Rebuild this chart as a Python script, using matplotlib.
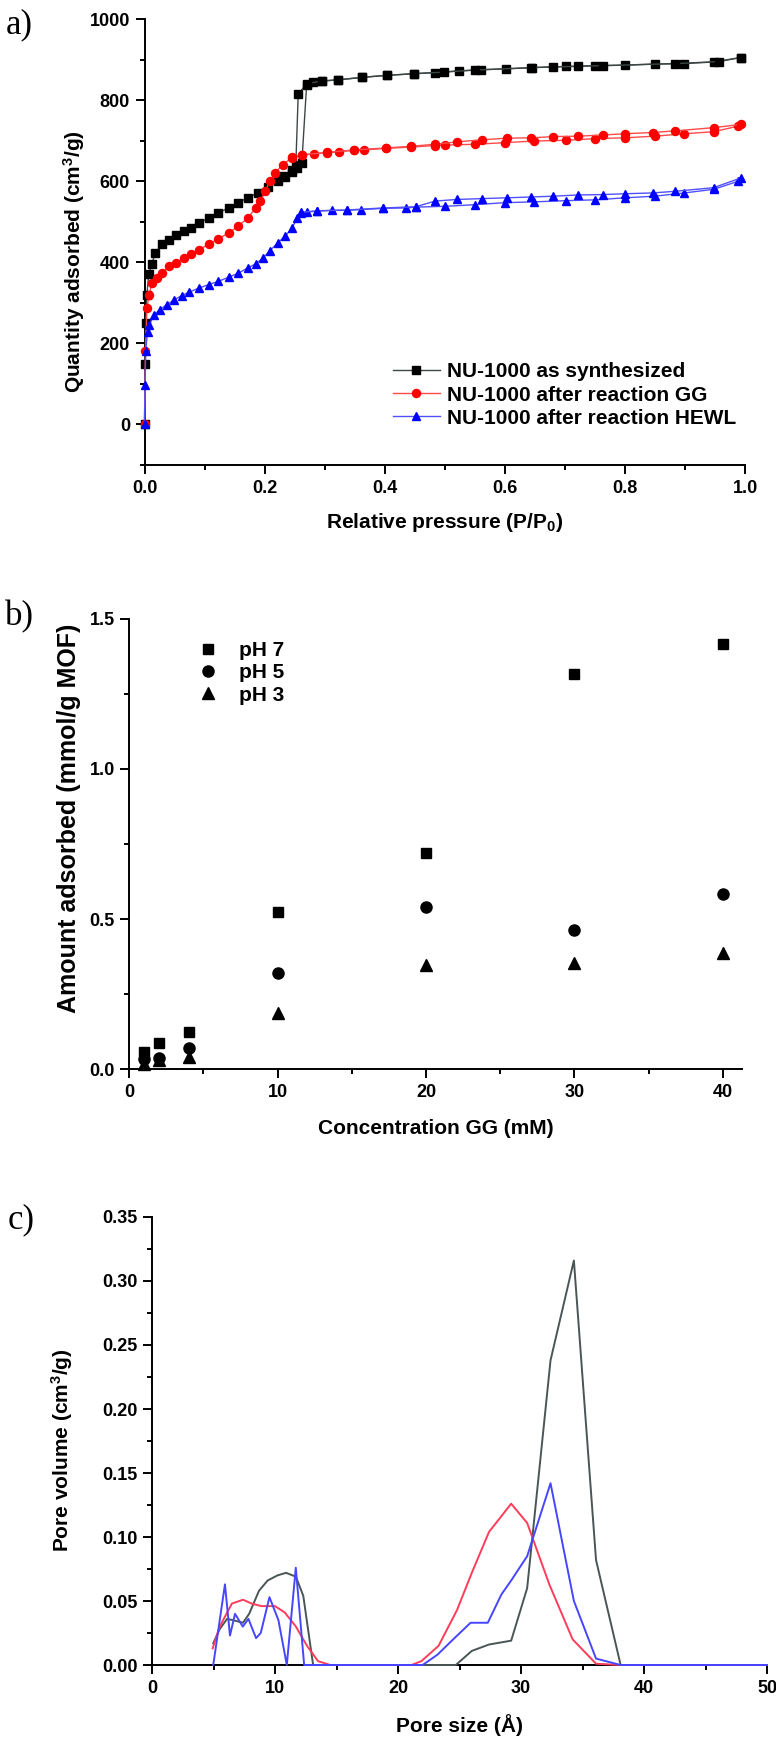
import matplotlib
matplotlib.use('Agg')
import matplotlib.pyplot as plt
from matplotlib.ticker import MultipleLocator, FormatStrFormatter

W, H = 776, 1738
plt.rcParams['font.family'] = ['Liberation Sans', 'DejaVu Sans']
plt.rcParams['font.weight'] = 'bold'
plt.rcParams['mathtext.fontset'] = 'custom'
plt.rcParams['mathtext.rm'] = 'Liberation Sans:bold'
plt.rcParams['mathtext.it'] = 'Liberation Sans:bold'
plt.rcParams['mathtext.bf'] = 'Liberation Sans:bold'

# ---------------- Panel a: N2 isotherms ----------------
syn_ads_p = [0.0, 0.001, 0.002, 0.004, 0.007, 0.012, 0.018, 0.029, 0.041, 0.053, 0.066, 0.078,
             0.09, 0.107, 0.123, 0.14, 0.156, 0.172, 0.189, 0.205, 0.222, 0.234, 0.246, 0.254,
             0.262, 0.270, 0.281, 0.295, 0.323, 0.362, 0.403, 0.448, 0.484, 0.523, 0.561, 0.602,
             0.645, 0.702, 0.751, 0.80, 0.85, 0.899, 0.948, 0.993]
syn_ads_q = [0, 150, 250, 320, 370, 395, 423, 444, 456, 468, 476, 485,
             497, 509, 522, 534, 547, 559, 571, 585, 600, 610, 622, 632,
             645, 838, 844, 847, 850, 856, 861, 865, 868, 872, 875, 877,
             880, 883, 885, 886, 889, 890, 894, 905]
syn_des_p = [0.993, 0.956, 0.883, 0.764, 0.722, 0.681, 0.644, 0.55, 0.498, 0.448, 0.403,
             0.362, 0.323, 0.295, 0.270, 0.256, 0.252, 0.245, 0.23]
syn_des_q = [905, 895, 890, 885, 883, 882, 880, 874, 869, 865, 861,
             856, 850, 847, 840, 815, 640, 628, 612]

gg_ads_p = [0.0, 0.0016, 0.004, 0.008, 0.012, 0.02, 0.029, 0.041, 0.053, 0.066, 0.078, 0.09,
            0.107, 0.123, 0.14, 0.156, 0.172, 0.185, 0.193, 0.201, 0.209, 0.218, 0.23, 0.246,
            0.263, 0.283, 0.304, 0.324, 0.349, 0.365, 0.402, 0.443, 0.484, 0.50, 0.55, 0.60,
            0.649, 0.702, 0.751, 0.80, 0.85, 0.899, 0.948, 0.989]
gg_ads_q = [0, 180, 287, 320, 349, 361, 373, 390, 398, 410, 420, 431,
            444, 458, 472, 489, 509, 534, 551, 575, 600, 621, 641, 658,
            664, 668, 670, 673, 676, 677, 681, 684, 688, 689, 691, 695,
            699, 701, 705, 707, 711, 717, 722, 736]
gg_des_p = [0.993, 0.948, 0.883, 0.846, 0.80, 0.764, 0.722, 0.681, 0.644, 0.603, 0.562,
            0.521, 0.484, 0.443, 0.402, 0.349, 0.304, 0.263, 0.246]
gg_des_q = [740, 732, 724, 720, 717, 714, 711, 710, 707, 706, 702,
            697, 691, 686, 682, 677, 671, 665, 659]

hewl_ads_p = [0.0, 0.001, 0.002, 0.005, 0.008, 0.016, 0.025, 0.037, 0.049, 0.062, 0.074,
              0.09, 0.107, 0.123, 0.14, 0.156, 0.172, 0.185, 0.197, 0.209, 0.222, 0.234,
              0.246, 0.254, 0.261, 0.271, 0.287, 0.312, 0.337, 0.361, 0.398, 0.435, 0.452,
              0.50, 0.55, 0.60, 0.649, 0.702, 0.751, 0.80, 0.85, 0.899, 0.948, 0.989]
hewl_ads_q = [0, 97, 180, 229, 246, 270, 283, 295, 307, 318, 326,
              336, 345, 353, 363, 373, 386, 396, 410, 429, 448, 464,
              485, 509, 522, 524, 526, 528, 528, 530, 533, 534, 536,
              538, 542, 547, 549, 552, 554, 559, 563, 571, 580, 600]
hewl_des_p = [0.993, 0.948, 0.883, 0.846, 0.80, 0.764, 0.722, 0.681, 0.644, 0.603, 0.562,
              0.521, 0.484, 0.452, 0.398, 0.337, 0.287, 0.261]
hewl_des_q = [608, 584, 575, 571, 569, 567, 566, 563, 561, 559, 557,
              555, 551, 537, 534, 529, 527, 523]

iso_labels = ['NU-1000 as synthesized', 'NU-1000 after reaction GG', 'NU-1000 after reaction HEWL']

# ---------------- Panel b: GG uptake ----------------
conc = [1, 2, 4, 10, 20, 30, 40]
ph7 = [0.058, 0.086, 0.124, 0.522, 0.72, 1.315, 1.417]
ph5 = [0.033, 0.038, 0.069, 0.319, 0.54, 0.463, 0.585]
ph3 = [0.017, 0.030, 0.040, 0.188, 0.348, 0.355, 0.387]
ph_labels = ['pH 7', 'pH 5', 'pH 3']

# ---------------- Panel c: pore size distribution ----------------
psd_syn_x = [4.98, 5.5, 6.1, 6.6, 7.4, 7.9, 8.7, 9.4, 10.2, 10.9, 11.7, 12.3, 13.1,
             24.7, 26.0, 27.4, 29.2, 30.5, 32.4, 34.3, 36.1, 38.1, 40, 45, 50]
psd_syn_y = [0.017, 0.028, 0.036, 0.035, 0.033, 0.040, 0.058, 0.066, 0.070, 0.072, 0.069, 0.054, 0.0,
             0.0, 0.011, 0.016, 0.019, 0.060, 0.238, 0.316, 0.082, 0.0, 0.0, 0.0, 0.0]
psd_gg_x = [4.93, 5.5, 6.5, 7.4, 8.1, 8.9, 10.0, 10.8, 11.7, 12.6, 13.5, 14.5,
            21.1, 21.9, 23.3, 24.8, 26.0, 27.4, 29.2, 30.5, 32.3, 34.2, 36.1, 38.1, 40, 45, 50]
psd_gg_y = [0.013, 0.030, 0.048, 0.051, 0.048, 0.046, 0.046, 0.041, 0.030, 0.015, 0.003, 0.0,
            0.0, 0.003, 0.015, 0.043, 0.072, 0.104, 0.126, 0.111, 0.063, 0.020, 0.001, 0.0, 0.0, 0.0, 0.0]
psd_hewl_x = [4.98, 5.93, 6.34, 6.75, 7.38, 7.84, 8.46, 8.84, 9.55, 10.28, 10.96, 11.69, 12.37,
              22.0, 23.2, 24.7, 25.9, 27.3, 28.4, 29.2, 30.5, 32.4, 34.3, 36.1, 38.1, 40, 45, 50]
psd_hewl_y = [0.0, 0.063, 0.023, 0.040, 0.030, 0.036, 0.021, 0.025, 0.053, 0.035, 0.0, 0.076, 0.0,
              0.0, 0.008, 0.022, 0.033, 0.033, 0.055, 0.066, 0.085, 0.142, 0.050, 0.005, 0.0, 0.0, 0.0, 0.0]

# ======================================================================
fig = plt.figure(figsize=(W / 100, H / 100), dpi=100)


def ax_px(l, t, r, b):
    return fig.add_axes([l / W, 1 - b / H, (r - l) / W, (b - t) / H])


def style(ax):
    for s in ['top', 'right']:
        ax.spines[s].set_visible(False)
    for s in ['left', 'bottom']:
        ax.spines[s].set_linewidth(1.4)
    ax.tick_params(which='major', length=6.5, width=1.4, labelsize=13, pad=4, direction='out')
    ax.tick_params(which='minor', length=3.5, width=1.4, direction='out')


def ftext(x, y, s, **kw):
    fig.text(x / W, 1 - y / H, s, **kw)


# ---- a ----
axa = ax_px(144.5, 19, 745, 465)
style(axa)
axa.set_xlim(0, 1.0)
axa.set_ylim(-100, 1000)
axa.xaxis.set_major_locator(MultipleLocator(0.2))
axa.xaxis.set_minor_locator(MultipleLocator(0.1))
axa.xaxis.set_major_formatter(FormatStrFormatter('%.1f'))
axa.yaxis.set_major_locator(MultipleLocator(200))
axa.yaxis.set_minor_locator(MultipleLocator(100))

sets = [
    (syn_ads_p, syn_ads_q, syn_des_p, syn_des_q, '#3d4747', 'black', 's', 5.2),
    (gg_ads_p, gg_ads_q, gg_des_p, gg_des_q, '#ff4a4a', '#ff0000', 'o', 5.8),
    (hewl_ads_p, hewl_ads_q, hewl_des_p, hewl_des_q, '#5050ff', '#0000ff', '^', 6.2),
]
handles = []
for (ap, aq, dp, dq, lc, mc, mk, ms), lab in zip(sets, iso_labels):
    h, = axa.plot(ap, aq, color=lc, lw=1.0, marker=mk, ms=ms, mfc=mc, mec=mc, clip_on=False, zorder=3)
    axa.plot(dp, dq, color=lc, lw=1.0, marker=mk, ms=ms, mfc=mc, mec=mc, clip_on=False, zorder=3)
    h.set_label(lab)
    handles.append(h)
fig.legend(handles=handles, loc='center left', bbox_to_anchor=(393 / W, 1 - 395 / H),
           frameon=False, fontsize=15, handlelength=2.25, handletextpad=0.35,
           labelspacing=0.2, borderpad=0, borderaxespad=0)

ftext(445, 523, 'Relative pressure (P/P$_0$)', ha='center', va='center', fontsize=15)
ftext(74, 262, 'Quantity adsorbed (cm$^3$/g)', ha='center', va='center', rotation=90, fontsize=15)
ftext(19, 25, 'a)', ha='center', va='center', fontsize=25, fontweight='normal',
      family=['Liberation Serif', 'DejaVu Serif'])

# ---- b ----
axb = ax_px(129.3, 619, 742, 1069)
style(axb)
axb.set_xlim(0, 41.3)
axb.set_ylim(0, 1.5)
axb.xaxis.set_major_locator(MultipleLocator(10))
axb.xaxis.set_minor_locator(MultipleLocator(5))
axb.yaxis.set_major_locator(MultipleLocator(0.5))
axb.yaxis.set_minor_locator(MultipleLocator(0.25))
axb.yaxis.set_major_formatter(FormatStrFormatter('%.1f'))
hb = []
for vals, mk, ms, lab in zip([ph7, ph5, ph3], ['s', 'o', '^'], [7, 8, 8.5], ph_labels):
    h, = axb.plot(conc, vals, ls='none', marker=mk, ms=ms, color='black', clip_on=False, zorder=3, label=lab)
    hb.append(h)
fig.legend(handles=hb, loc='center left', bbox_to_anchor=(187 / W, 1 - 673 / H),
           frameon=False, fontsize=15, handlelength=2.0, handletextpad=0.5,
           labelspacing=0.15, borderpad=0, borderaxespad=0)
ftext(436, 1129, 'Concentration GG (mM)', ha='center', va='center', fontsize=15)
ftext(69, 818, 'Amount adsorbed (mmol/g MOF)', ha='center', va='center', rotation=90, fontsize=18)
ftext(19, 617, 'b)', ha='center', va='center', fontsize=25, fontweight='normal',
      family=['Liberation Serif', 'DejaVu Serif'])

# ---- c ----
axc = ax_px(152, 1217, 767, 1665)
style(axc)
axc.set_xlim(0, 50)
axc.set_ylim(0, 0.35)
axc.xaxis.set_major_locator(MultipleLocator(10))
axc.xaxis.set_minor_locator(MultipleLocator(5))
axc.yaxis.set_major_locator(MultipleLocator(0.05))
axc.yaxis.set_minor_locator(MultipleLocator(0.025))
axc.yaxis.set_major_formatter(FormatStrFormatter('%.2f'))
axc.plot(psd_syn_x, psd_syn_y, color='#4a5555', lw=1.4, clip_on=False, zorder=3)
axc.plot(psd_gg_x, psd_gg_y, color='#ff3c5a', lw=1.4, clip_on=False, zorder=3)
axc.plot(psd_hewl_x, psd_hewl_y, color='#4646ff', lw=1.4, clip_on=False, zorder=3)
ftext(460, 1725, 'Pore size (Å)', ha='center', va='center', fontsize=15)
ftext(62, 1450, 'Pore volume (cm$^3$/g)', ha='center', va='center', rotation=90, fontsize=15)
ftext(21, 1220, 'c)', ha='center', va='center', fontsize=25, fontweight='normal',
      family=['Liberation Serif', 'DejaVu Serif'])

fig.savefig('out.png', dpi=100)
